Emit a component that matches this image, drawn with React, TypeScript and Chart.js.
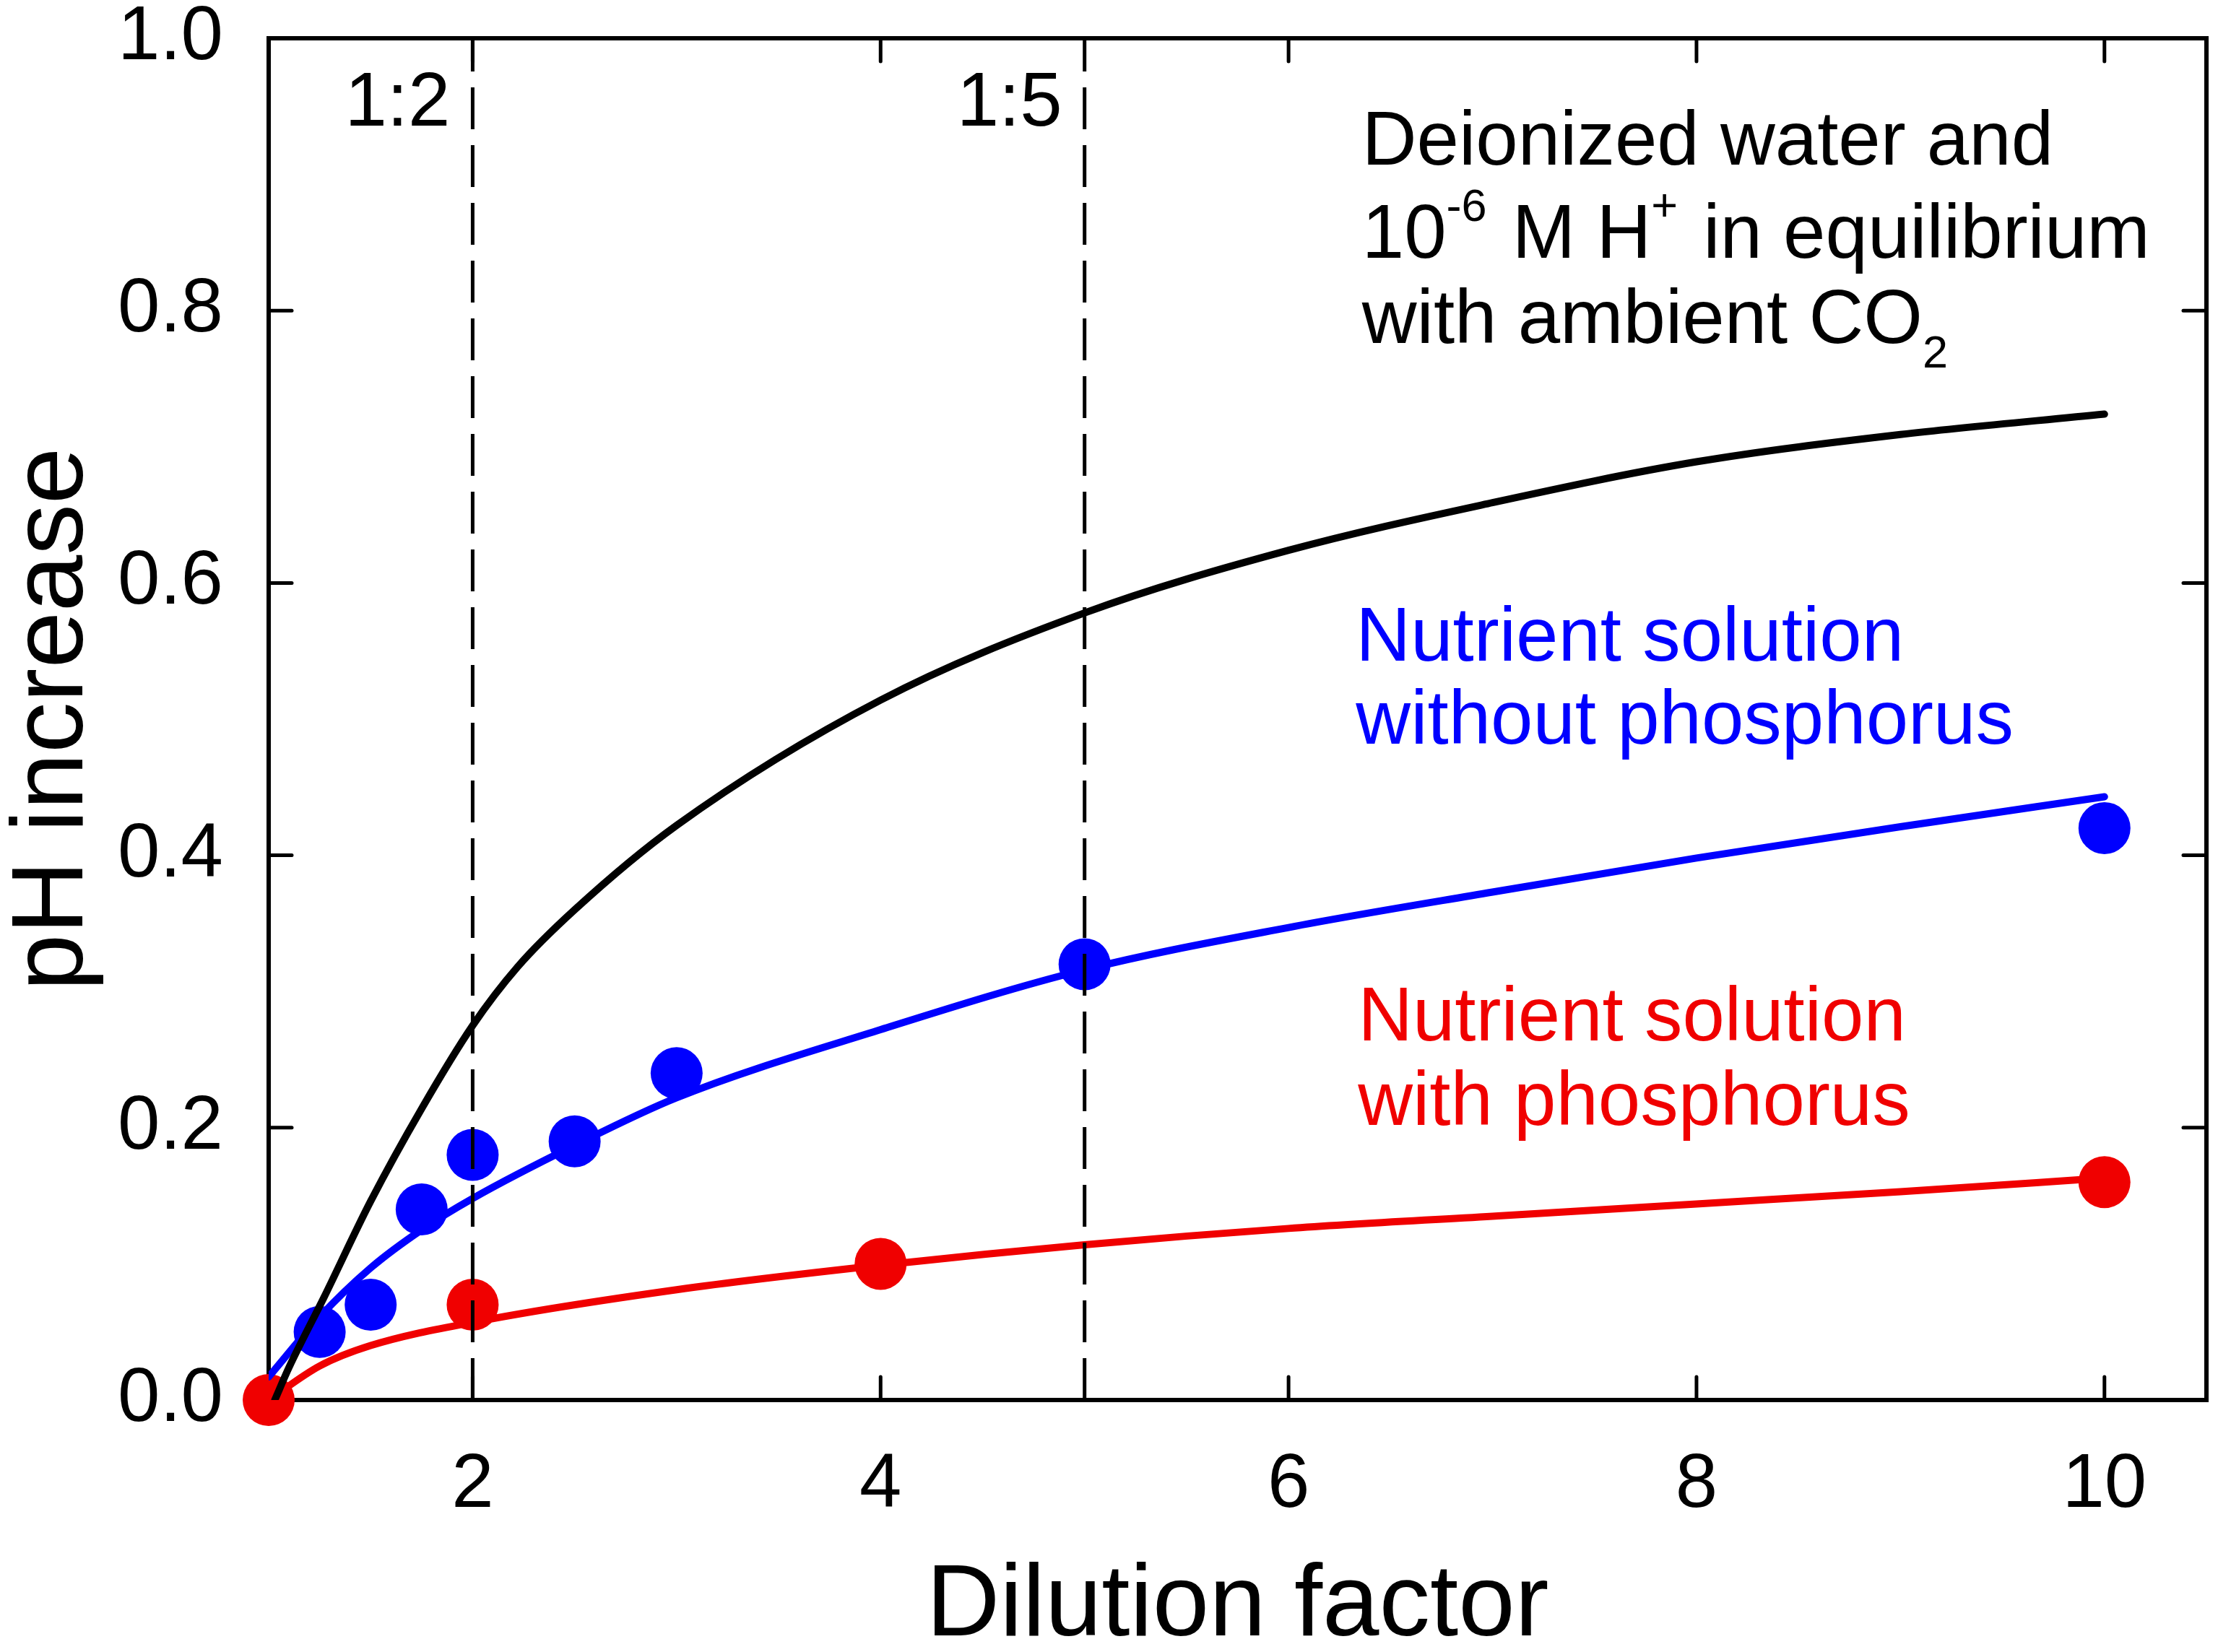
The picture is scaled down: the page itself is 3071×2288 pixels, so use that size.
import { useEffect, useRef } from "react";
import { Chart, registerables } from "chart.js";

Chart.register(...registerables);

const FONT = '"Liberation Sans", Arial, Helvetica, sans-serif';
const BLUE = "#0000ff";
const RED = "#f00000";

// measured points
const bluePtX = [1.25, 1.5, 1.75, 2, 2.5, 3, 5, 10];
const bluePtY = [0.05, 0.07, 0.14, 0.18, 0.19, 0.24, 0.32, 0.42];
const redPtX = [1, 2, 4, 10];
const redPtY = [0, 0.07, 0.1, 0.16];

// model curves
const blackX = [1.03, 1.1, 1.27, 1.5, 1.75, 2, 2.22, 2.5, 3, 4, 5, 6, 7, 8, 9, 10];
const blackY = [0, 0.024, 0.075, 0.146, 0.214, 0.275, 0.318, 0.36, 0.422, 0.514, 0.578, 0.624, 0.659, 0.689, 0.709, 0.724];
const blueX = [1, 1.25, 1.5, 1.75, 2, 2.5, 3, 4, 5, 6, 7, 8, 9, 10];
const blueY = [0.017, 0.061, 0.097, 0.125, 0.148, 0.187, 0.222, 0.272, 0.316, 0.347, 0.373, 0.398, 0.421, 0.443];
const redX = [1, 1.25, 1.5, 2, 3, 4, 5, 6, 7, 8, 9, 10];
const redY = [0, 0.025, 0.04, 0.057, 0.081, 0.099, 0.114, 0.126, 0.135, 0.144, 0.153, 0.163];

// dilution ratios marked with dashed lines
const dilutionX = [2, 5];
const dilutionLabels = ["1:2", "1:5"];

const xTicks = [2, 4, 6, 8, 10];
const yTicks = [0, 0.2, 0.4, 0.6, 0.8, 1.0];

const toPts = (xs: number[], ys: number[]) => xs.map((x, i) => ({ x, y: ys[i] }));

type Seg = { t: string; s?: "sup" | "sub" };
type Note = { x: number; y: number; color: string; segs: Seg[] };

const notes: Note[] = [
  { x: 6.36, y: 0.907, color: "#000", segs: [{ t: "Deionized water and" }] },
  {
    x: 6.36,
    y: 0.839,
    color: "#000",
    segs: [{ t: "10" }, { t: "-6", s: "sup" }, { t: " M H" }, { t: "+", s: "sup" }, { t: " in equilibrium" }],
  },
  { x: 6.36, y: 0.776, color: "#000", segs: [{ t: "with ambient CO" }, { t: "2", s: "sub" }] },
  { x: 6.33, y: 0.543, color: BLUE, segs: [{ t: "Nutrient solution" }] },
  { x: 6.33, y: 0.482, color: BLUE, segs: [{ t: "without phosphorus" }] },
  { x: 6.34, y: 0.264, color: RED, segs: [{ t: "Nutrient solution" }] },
  { x: 6.34, y: 0.202, color: RED, segs: [{ t: "with phosphorus" }] },
];

const TEXT = 105;
const TITLE = 141;

const framePlugin = {
  id: "frame",
  beforeDatasetsDraw(chart: any) {
    const { ctx, chartArea: a, scales } = chart;
    ctx.save();
    ctx.strokeStyle = "#000";
    ctx.lineWidth = 5;
    ctx.lineCap = "round";
    const len = 32;
    xTicks.forEach((v) => {
      const px = scales.x.getPixelForValue(v);
      ctx.beginPath();
      ctx.moveTo(px, a.bottom);
      ctx.lineTo(px, a.bottom - len);
      ctx.moveTo(px, a.top);
      ctx.lineTo(px, a.top + len);
      ctx.stroke();
    });
    yTicks.slice(1, -1).forEach((v) => {
      const py = scales.y.getPixelForValue(v);
      ctx.beginPath();
      ctx.moveTo(a.left, py);
      ctx.lineTo(a.left + len, py);
      ctx.moveTo(a.right, py);
      ctx.lineTo(a.right - len, py);
      ctx.stroke();
    });
    ctx.lineWidth = 6;
    ctx.lineJoin = "miter";
    ctx.strokeRect(a.left, a.top, a.right - a.left, a.bottom - a.top);
    ctx.restore();
  },
};

const notesPlugin = {
  id: "notes",
  afterDatasetsDraw(chart: any) {
    const { ctx, scales } = chart;
    ctx.save();
    ctx.textBaseline = "alphabetic";

    // dilution labels, right-aligned left of the dashed lines
    ctx.fillStyle = "#000";
    ctx.textAlign = "right";
    ctx.font = `${TEXT}px ${FONT}`;
    dilutionX.forEach((v, i) => {
      ctx.fillText(dilutionLabels[i], scales.x.getPixelForValue(v) - 31, scales.y.getPixelForValue(0.936));
    });

    ctx.textAlign = "left";
    notes.forEach((n) => {
      let cx = scales.x.getPixelForValue(n.x);
      const y = scales.y.getPixelForValue(n.y);
      ctx.fillStyle = n.color;
      n.segs.forEach((seg) => {
        const fs = seg.s ? TEXT * 0.6 : TEXT;
        const dy = seg.s === "sup" ? -TEXT * 0.48 : seg.s === "sub" ? TEXT * 0.32 : 0;
        ctx.font = `${fs}px ${FONT}`;
        ctx.fillText(seg.t, cx, y + dy);
        cx += ctx.measureText(seg.t).width + (seg.s === "sup" ? 6 : 0);
      });
    });
    ctx.restore();
  },
};

const curve = (xs: number[], ys: number[], color: string) => ({
  data: toPts(xs, ys),
  borderColor: color,
  borderWidth: 10,
  borderCapStyle: "round",
  borderJoinStyle: "round",
  cubicInterpolationMode: "monotone",
  pointRadius: 0,
  showLine: true,
  fill: false,
  order: 1,
});

const dots = (xs: number[], ys: number[], color: string) => ({
  data: toPts(xs, ys),
  showLine: false,
  pointRadius: 36,
  pointBackgroundColor: color,
  pointBorderWidth: 0,
  clip: false,
  order: 2,
});

const dashed = (v: number) => ({
  data: [
    { x: v, y: 0 },
    { x: v, y: 1 },
  ],
  borderColor: "#000",
  borderWidth: 5,
  borderDash: [58, 22],
  borderCapStyle: "butt",
  pointRadius: 0,
  showLine: true,
  fill: false,
  order: 0,
});

// keep Chart.js from growing the plot area for label overflow
const noPad = (s: any) => {
  s.paddingTop = 0;
  s.paddingBottom = 0;
  s.paddingLeft = 0;
  s.paddingRight = 0;
};

export default function App() {
  const chartRef = useRef<HTMLCanvasElement>(null);
  const chartInstance = useRef<Chart | null>(null);

  useEffect(() => {
    if (!chartRef.current) return;
    if (chartInstance.current) chartInstance.current.destroy();

    const ctx = chartRef.current.getContext("2d");
    if (ctx) {
      chartInstance.current = new Chart(ctx, {
        type: "line",
        data: {
          datasets: [
            ...dilutionX.map(dashed),
            curve(blackX, blackY, "#000"),
            curve(blueX, blueY, BLUE),
            curve(redX, redY, RED),
            dots(bluePtX, bluePtY, BLUE),
            dots(redPtX, redPtY, RED),
          ] as any,
        },
        options: {
          animation: false,
          responsive: true,
          maintainAspectRatio: false,
          devicePixelRatio: 1,
          events: [],
          layout: { autoPadding: false, padding: { top: 53, right: 16, left: 0, bottom: 0 } },
          plugins: {
            legend: { display: false },
            tooltip: { enabled: false },
          },
          scales: {
            x: {
              type: "linear",
              min: 1,
              max: 10.5,
              position: "bottom",
              grid: { display: false },
              border: { display: false },
              afterBuildTicks: (s: any) => {
                s.ticks = xTicks.map((value) => ({ value }));
              },
              afterFit: (s: any) => {
                s.height = 349;
                noPad(s);
              },
              ticks: {
                color: "#000",
                padding: 59,
                maxRotation: 0,
                font: { family: FONT, size: TEXT, lineHeight: 1 },
                callback: (v: any) => String(v),
              },
              title: {
                display: true,
                text: "Dilution factor",
                color: "#000",
                padding: 0,
                font: { family: FONT, size: TITLE, lineHeight: 0.88 },
              },
            },
            y: {
              type: "linear",
              min: 0,
              max: 1,
              grid: { display: false },
              border: { display: false },
              afterBuildTicks: (s: any) => {
                s.ticks = yTicks.map((value) => ({ value }));
              },
              afterFit: (s: any) => {
                s.width = 372;
                noPad(s);
              },
              ticks: {
                color: "#000",
                padding: 55,
                font: { family: FONT, size: TEXT, lineHeight: 1 },
                callback: (v: any) => Number(v).toFixed(1),
              },
              title: {
                display: true,
                text: "pH increase",
                color: "#000",
                padding: { top: 13, bottom: 0 },
                font: { family: FONT, size: TITLE, lineHeight: 0.88 },
              },
            },
          },
        },
        plugins: [framePlugin, notesPlugin],
      });
    }

    return () => {
      if (chartInstance.current) {
        chartInstance.current.destroy();
        chartInstance.current = null;
      }
    };
  }, []);

  return (
    <div
      style={{
        position: "absolute",
        left: 0,
        top: 0,
        width: "3071px",
        height: "2288px",
        background: "#fff",
      }}
    >
      <canvas ref={chartRef} />
    </div>
  );
}
